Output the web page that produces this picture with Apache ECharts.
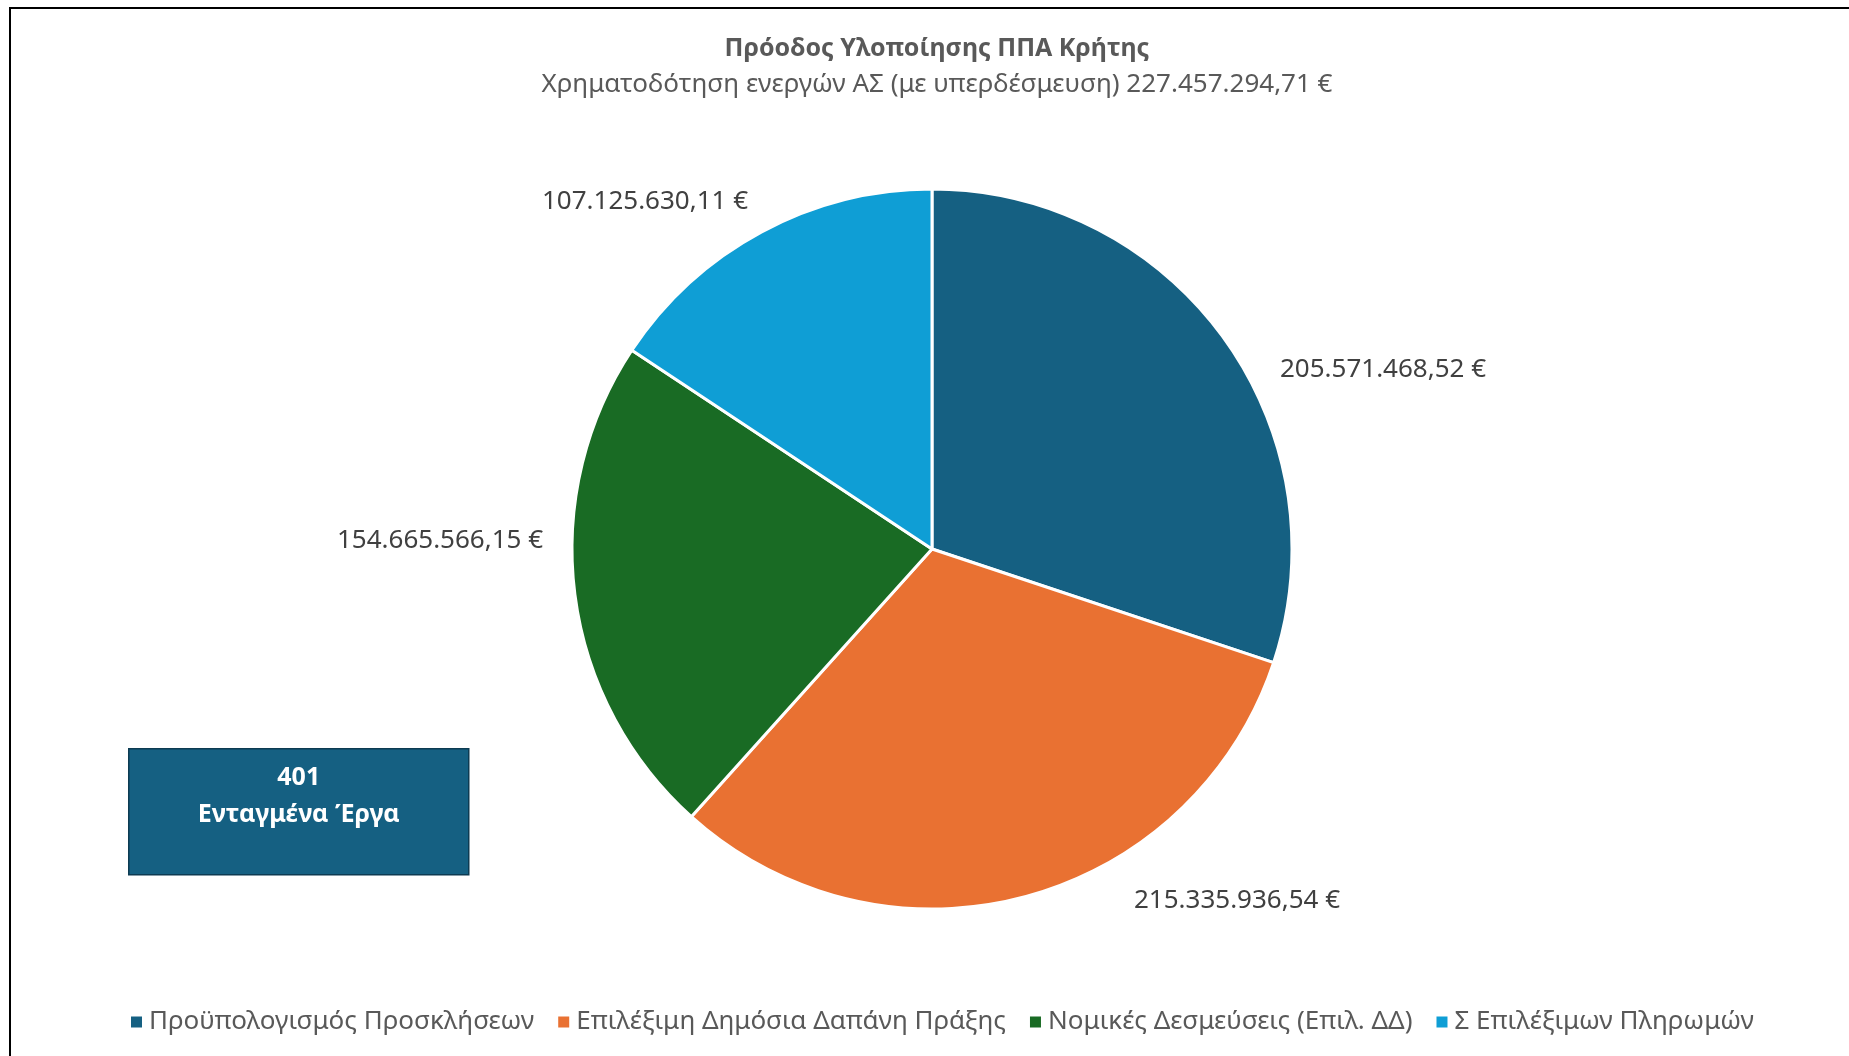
<!DOCTYPE html>
<html>
<head>
<meta charset="utf-8">
<title>Πρόοδος Υλοποίησης ΠΠΑ Κρήτης</title>
<script src="https://cdn.jsdelivr.net/npm/echarts@6/dist/echarts.min.js"></script>
<style>
  html, body { margin: 0; padding: 0; background: #ffffff; }
  #chart { width: 1849px; height: 1056px; }
</style>
</head>
<body>
<div id="chart"></div>
<script>
// Funding categories and amounts (€)
const categories = [
  'Προϋπολογισμός Προσκλήσεων',
  'Επιλέξιμη Δημόσια Δαπάνη Πράξης',
  'Νομικές Δεσμεύσεις (Επιλ. ΔΔ)',
  'Σ Επιλέξιμων Πληρωμών'
];
const amounts = [205571468.52, 215335936.54, 154665566.15, 107125630.11];
const sliceColors = ['#156082', '#E97132', '#196B24', '#0F9ED5'];

const titleText = 'Πρόοδος Υλοποίησης ΠΠΑ Κρήτης';
const subtitleText = 'Χρηματοδότηση ενεργών ΑΣ (με υπερδέσμευση) 227.457.294,71 €';
const projectCount = 401;
const projectCaption = 'Ενταγμένα Έργα';

// Label anchor points (label centres, px) for each slice
const labelAnchors = [[1383, 370], [1237, 901], [440, 541], [645, 202]];

const FONT = '"Noto Sans", "Open Sans", sans-serif';

function formatEuro(v) {
  const parts = v.toFixed(2).split('.');
  const intPart = parts[0].replace(/\B(?=(\d{3})+(?!\d))/g, '.');
  return intPart + ',' + parts[1] + ' €';
}

const chart = echarts.init(document.getElementById('chart'), null, { renderer: 'canvas' });

chart.setOption({
  backgroundColor: '#ffffff',
  animation: false,
  title: {
    text: titleText,
    subtext: subtitleText,
    left: 932,
    textAlign: 'center',
    top: 31,
    itemGap: 11,
    textStyle: { fontFamily: FONT, fontWeight: 'bold', fontSize: 25, color: '#595959' },
    subtextStyle: { fontFamily: FONT, fontSize: 26, color: '#595959' }
  },
  legend: {
    bottom: 16,
    left: 124,
    icon: 'rect',
    itemWidth: 13,
    itemHeight: 13,
    itemGap: 22,
    textStyle: { fontFamily: FONT, fontSize: 26, color: '#595959', padding: [0, 0, 0, 1] },
    data: categories
  },
  graphic: [
    {
      type: 'rect',
      silent: true,
      shape: { x: 10, y: 8, width: 1900, height: 1100 },
      style: { fill: 'none', stroke: '#000000', lineWidth: 2 }
    },
    {
      type: 'group',
      left: 128,
      top: 748,
      children: [
        {
          type: 'rect',
          shape: { x: 0, y: 0, width: 340, height: 126 },
          style: { fill: '#156082', stroke: '#0d3b52', lineWidth: 1.5 }
        },
        {
          type: 'text',
          x: 170,
          y: 29,
          style: {
            text: String(projectCount),
            fill: '#ffffff',
            font: 'bold 25px ' + FONT,
            align: 'center',
            verticalAlign: 'middle'
          }
        },
        {
          type: 'text',
          x: 170,
          y: 66,
          style: {
            text: projectCaption,
            fill: '#ffffff',
            font: 'bold 25px ' + FONT,
            align: 'center',
            verticalAlign: 'middle'
          }
        }
      ]
    }
  ],
  series: [
    {
      type: 'pie',
      center: [932, 549],
      radius: [0, 360],
      startAngle: 90,
      clockwise: true,
      avoidLabelOverlap: false,
      itemStyle: { borderColor: '#ffffff', borderWidth: 3 },
      emphasis: { disabled: true },
      label: {
        show: true,
        position: 'outside',
        fontFamily: FONT,
        fontSize: 26,
        color: '#404040',
        formatter: p => formatEuro(p.value)
      },
      labelLine: { show: false },
      labelLayout: p => ({
        x: labelAnchors[p.dataIndex][0],
        y: labelAnchors[p.dataIndex][1],
        align: 'center',
        verticalAlign: 'middle'
      }),
      data: categories.map((name, i) => ({
        name,
        value: amounts[i],
        itemStyle: { color: sliceColors[i] }
      }))
    }
  ]
});
</script>
</body>
</html>
